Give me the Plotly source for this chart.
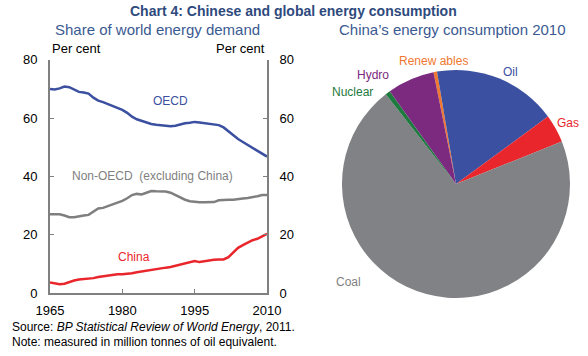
import plotly.graph_objects as go

years = list(range(1965, 2011))
oecd = [70.0, 69.8, 70.2, 70.8, 70.6, 69.8, 69.0, 68.8, 68.4, 67.0,
        66.0, 65.5, 64.8, 64.0, 63.5, 62.8, 61.8, 60.5, 59.6, 59.0,
        58.6, 58.0, 57.7, 57.5, 57.2, 57.2, 57.4, 57.9, 58.2, 58.4,
        58.7, 58.5, 58.3, 57.9, 57.8, 57.6, 56.8, 55.5, 54.0, 52.8,
        51.8, 50.8, 49.8, 48.8, 47.6, 46.8]
non_oecd = [27.0, 27.0, 27.0, 26.6, 26.0, 26.0, 26.4, 26.6, 26.8, 27.8,
            29.0, 29.2, 29.8, 30.5, 31.0, 31.6, 32.5, 33.6, 34.0, 33.8,
            34.4, 35.0, 34.9, 34.8, 34.8, 34.4, 33.6, 32.8, 32.0, 31.5,
            31.2, 31.1, 31.1, 31.1, 31.2, 31.8, 32.0, 32.0, 32.0, 32.1,
            32.4, 32.6, 32.8, 33.2, 33.6, 33.6]
china = [3.6, 3.3, 3.0, 3.2, 3.8, 4.3, 4.6, 4.7, 4.8, 5.1,
         5.5, 5.7, 6.0, 6.3, 6.4, 6.4, 6.5, 6.8, 7.1, 7.4,
         7.6, 7.8, 8.1, 8.5, 8.7, 8.9, 9.3, 9.7, 10.1, 10.5,
         11.0, 10.6, 10.9, 11.2, 11.4, 11.5, 11.5, 12.3, 14.0, 15.5,
         16.4, 17.3, 18.1, 18.6, 19.4, 20.3]

x_ticks = [1965, 1980, 1995, 2010]
y_ticks = [0, 20, 40, 60, 80]

pie_labels = ["Renewables", "Oil", "Gas", "Coal", "Nuclear", "Hydro"]
pie_values = [0.5, 17.6, 4.0, 70.5, 0.7, 6.7]
pie_colors = ["#F07830", "#3B50A0", "#E8262B", "#818285", "#1E7A3E", "#7B2A80"]

BLUE = "#3B50A0"
GREY = "#7F7F7F"
RED = "#E8262B"
AXIS = "#808080"
FONT = "Liberation Sans, Arial, sans-serif"

fig = go.Figure()
fig.add_trace(go.Scatter(x=years, y=oecd, mode="lines", line=dict(color=BLUE, width=2.5), showlegend=False))
fig.add_trace(go.Scatter(x=years, y=non_oecd, mode="lines", line=dict(color=GREY, width=2.5), showlegend=False))
fig.add_trace(go.Scatter(x=years, y=china, mode="lines", line=dict(color=RED, width=2.5), showlegend=False))
# invisible trace to show right axis
fig.add_trace(go.Scatter(x=years, y=china, yaxis="y2", mode="lines", line=dict(width=0), opacity=0,
                         hoverinfo="skip", showlegend=False))

fig.add_trace(go.Pie(labels=pie_labels, values=pie_values, sort=False, direction="clockwise",
                     rotation=-11.4, marker=dict(colors=pie_colors, line=dict(width=0)),
                     textinfo="none", showlegend=False,
                     domain=dict(x=[0.5816, 0.9694], y=[0.1629, 0.8034])))

ydom = [1 - 293 / 356, 1 - 59.8 / 356]
axis_common = dict(showgrid=False, zeroline=False, showline=True, linecolor=AXIS, linewidth=2,
                   ticks="inside", ticklen=4, tickcolor=AXIS, tickwidth=1, automargin=False,
                   tickfont=dict(family=FONT, size=13, color="black"))
fig.update_layout(
    width=588, height=356, margin=dict(l=0, r=0, t=0, b=0),
    paper_bgcolor="white", plot_bgcolor="white",
    font=dict(family=FONT),
    xaxis=dict(domain=[50 / 588, 267 / 588], range=[1965, 2010], tickvals=x_ticks,
               ticklabelstandoff=4, **axis_common),
    yaxis=dict(domain=ydom, range=[0, 80], tickvals=y_ticks, ticklabelstandoff=8, **axis_common),
    yaxis2=dict(overlaying="y", side="right", range=[0, 80], tickvals=y_ticks, anchor="x",
                ticklabelstandoff=8, **axis_common),
)

def ann(text, x, y, color, size=12, xanchor="center", bold=False):
    fig.add_annotation(text=("<b>%s</b>" % text) if bold else text, x=x / 588, y=1 - y / 356,
                       xref="paper", yref="paper", showarrow=False, xanchor=xanchor, yanchor="middle",
                       font=dict(family=FONT, size=size, color=color))

ann("Chart 4: Chinese and global energy consumption", 293, 11, "#2E4A7D", size=14, bold=True)
ann("Share of world energy demand", 157, 30, "#3B5A92", size=15)
ann("China\u2019s energy consumption 2010", 452, 30, "#3B5A92", size=15)
ann("Per cent", 50, 48, "black", size=13, xanchor="left")
ann("Per cent", 267, 48, "black", size=13, xanchor="right")
ann("OECD", 170, 101, BLUE)
ann("Non-OECD  (excluding China)", 152, 176, GREY)
ann("China", 134, 257, RED)

ann("Oil", 510, 72, BLUE)
ann("Gas", 568, 123, RED)
ann("Coal", 348, 282, GREY)
ann("Nuclear", 353, 92, "#1E7A3E")
ann("Hydro", 373, 75, "#7B2A80")
ann("Renew ables", 433, 61, "#F07830")

fig.add_annotation(text="Source: <i>BP Statistical Review of World Energy</i>, 2011.", x=10 / 588, y=1 - 327 / 356,
                   xref="paper", yref="paper", showarrow=False, xanchor="left", yanchor="middle",
                   font=dict(family=FONT, size=12, color="black"))
fig.add_annotation(text="Note: measured in million tonnes of oil equivalent.", x=10 / 588, y=1 - 342 / 356,
                   xref="paper", yref="paper", showarrow=False, xanchor="left", yanchor="middle",
                   font=dict(family=FONT, size=12, color="black"))

fig.write_html("out.html", config={"displayModeBar": False},
               post_script="document.body.style.margin='0';document.body.style.overflow='hidden';")
